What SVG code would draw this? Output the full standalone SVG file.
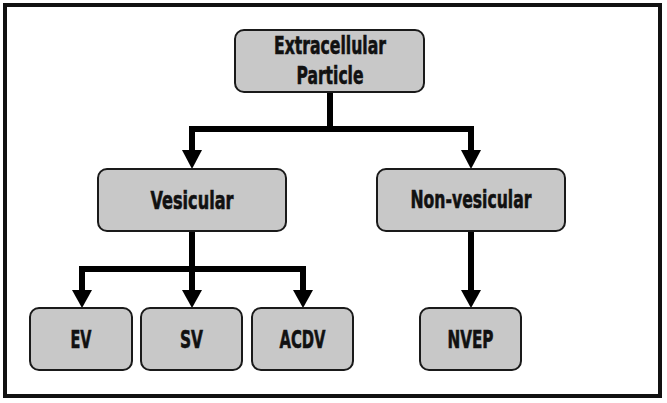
<svg xmlns="http://www.w3.org/2000/svg" width="667" height="403" viewBox="0 0 667 403">
<style>
.box{fill:#c8c8c8;stroke:#1a1a1a;stroke-width:2}
.lbl{font-family:"Liberation Sans Narrow","DejaVu Sans Condensed","Liberation Sans",sans-serif;font-weight:bold;font-size:25px;fill:#111;stroke:#111;stroke-width:0.6;text-anchor:middle}
.ln{fill:none;stroke:#000;stroke-width:6;stroke-linejoin:miter;stroke-linecap:butt}
.ah{fill:#000}
</style>
<rect x="0" y="0" width="667" height="403" fill="#fff"/>
<rect x="5" y="5" width="655" height="391" fill="#fff" stroke="#111" stroke-width="4"/>
<g id="connectors">
<path class="ln" d="M330,92 V129 M192,129 H471 M192,126 V152 M471,126 V152"/>
<path class="ln" d="M192,231 V269 M82,269 H303 M82,266 V292 M192,266 V292 M303,266 V292"/>
<path class="ln" d="M471,231 V292"/>
<polygon class="ah" points="182,150 202,150 192,169"/>
<polygon class="ah" points="461,150 481,150 471,169"/>
<polygon class="ah" points="72,290 92,290 82,308"/>
<polygon class="ah" points="182,290 202,290 192,308"/>
<polygon class="ah" points="293,290 313,290 303,308"/>
<polygon class="ah" points="461,290 481,290 471,308"/>
</g>
<g id="extracellular">
<rect class="box" x="235" y="30" width="189" height="62" rx="9"/>
<text class="lbl" x="330" y="54" textLength="112" lengthAdjust="spacingAndGlyphs">Extracellular</text>
<text class="lbl" x="330" y="84" textLength="67" lengthAdjust="spacingAndGlyphs">Particle</text>
</g>
<g id="vesicular">
<rect class="box" x="98" y="169" width="188" height="62" rx="9"/>
<text class="lbl" x="192" y="209" textLength="83" lengthAdjust="spacingAndGlyphs">Vesicular</text>
</g>
<g id="nonvesicular">
<rect class="box" x="377" y="169" width="188" height="62" rx="9"/>
<text class="lbl" x="471" y="208" textLength="121" lengthAdjust="spacingAndGlyphs">Non-vesicular</text>
</g>
<g id="ev">
<rect class="box" x="30" y="308" width="102" height="62" rx="9"/>
<text class="lbl" x="81" y="348" textLength="21" lengthAdjust="spacingAndGlyphs">EV</text>
</g>
<g id="sv">
<rect class="box" x="141" y="308" width="101" height="62" rx="9"/>
<text class="lbl" x="191.5" y="348" textLength="23" lengthAdjust="spacingAndGlyphs">SV</text>
</g>
<g id="acdv">
<rect class="box" x="252" y="308" width="101" height="62" rx="9"/>
<text class="lbl" x="302.5" y="348" textLength="46" lengthAdjust="spacingAndGlyphs">ACDV</text>
</g>
<g id="nvep">
<rect class="box" x="420" y="308" width="101" height="62" rx="9"/>
<text class="lbl" x="470.5" y="348" textLength="46" lengthAdjust="spacingAndGlyphs">NVEP</text>
</g>
</svg>
